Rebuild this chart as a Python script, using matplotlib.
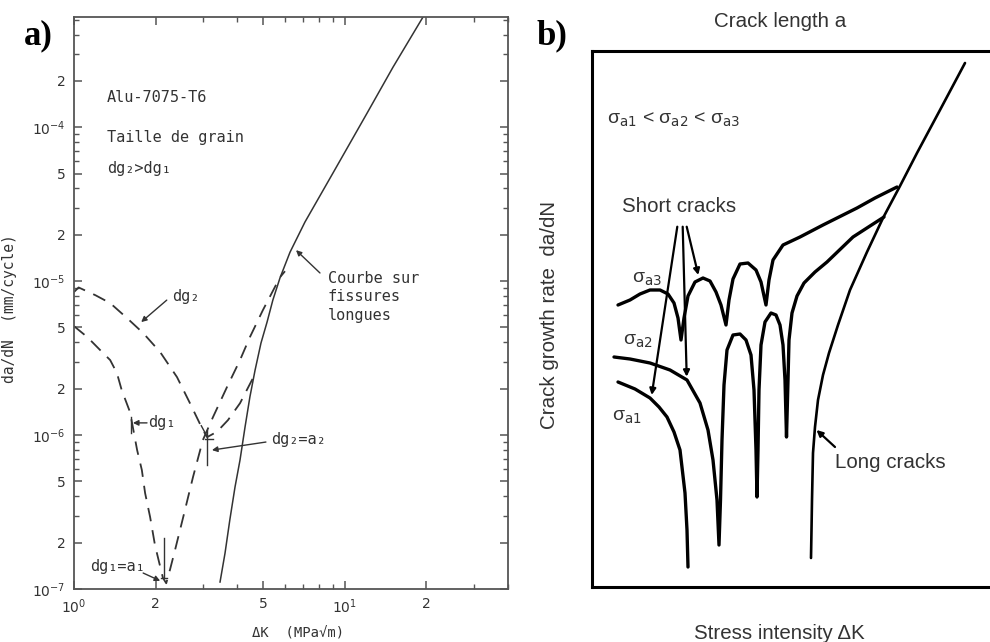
import numpy as np
import matplotlib
matplotlib.use("Agg")
import matplotlib.pyplot as plt
from matplotlib import font_manager
from matplotlib.ticker import LogLocator, NullFormatter

# ---------------- panel a) : da/dN vs dK, Alu-7075-T6 (log-log) ----------------
# long crack curve
long_K = [3.46, 3.61, 3.76, 3.93, 4.10, 4.28, 4.46, 4.66, 4.90, 5.16, 5.42, 5.76,
          6.27, 7.12, 9.03, 12.06, 15.04, 19.40]
long_v = [1.11e-7, 1.71e-7, 2.81e-7, 4.60e-7, 6.88e-7, 1.13e-6, 1.77e-6, 2.64e-6,
          3.96e-6, 5.42e-6, 7.53e-6, 1.05e-5, 1.54e-5, 2.42e-5, 5.03e-5, 1.23e-4,
          2.45e-4, 5.18e-4]

# small grain size dg1 (dashed)
dg1_K = [1.00, 1.12, 1.25, 1.36, 1.44, 1.50, 1.61, 1.71, 1.78, 1.83, 1.91, 1.99,
         2.06, 2.13, 2.19, 2.26, 2.36, 2.53, 2.75, 2.99, 3.26, 3.67, 4.10, 4.46,
         4.98, 5.76, 6.01]
dg1_v = [5.10e-6, 4.33e-6, 3.56e-6, 3.07e-6, 2.53e-6, 1.96e-6, 1.41e-6, 7.99e-7,
         5.93e-7, 4.20e-7, 2.93e-7, 1.93e-7, 1.50e-7, 1.18e-7, 1.09e-7, 1.33e-7,
         1.79e-7, 2.93e-7, 5.34e-7, 9.28e-7, 1.31e-6, 2.05e-6, 3.07e-6, 4.33e-6,
         6.48e-6, 1.06e-5, 1.16e-5]

# large grain size dg2 (dashed)
dg2_K = [1.00, 1.04, 1.20, 1.36, 1.57, 1.80, 2.08, 2.40, 2.68, 2.99, 3.10, 3.37,
         3.70, 4.10, 4.54, 4.70]
dg2_v = [8.5e-6, 9.1e-6, 8.1e-6, 7.2e-6, 5.75e-6, 4.6e-6, 3.46e-6, 2.38e-6, 1.61e-6,
         1.08e-6, 9.7e-7, 1.05e-6, 1.25e-6, 1.61e-6, 2.28e-6, 2.53e-6]

a_xticks = [1, 2, 5, 10, 20]
a_xticklabels = [r'$10^0$', '2', '5', r'$10^1$', '2']
a_yticks = [1e-7, 2e-7, 5e-7, 1e-6, 2e-6, 5e-6, 1e-5, 2e-5, 5e-5, 1e-4, 2e-4]
a_yticklabels = [r'$10^{-7}$', '2', '5', r'$10^{-6}$', '2', '5',
                 r'$10^{-5}$', '2', '5', r'$10^{-4}$', '2']

# ---------------- panel b) : schematic short / long cracks (arbitrary units) ----------------
sa1_x = [26, 43, 58, 67, 75, 82, 88, 93, 95, 96]
sa1_y = [205, 198, 189, 180, 170, 155, 137, 94, 57, 20]

sa2_x = [22, 38, 58, 78, 95, 108, 116, 121, 125, 127, 128.5, 130, 132, 135, 141, 148,
         154, 159, 162, 164, 165, 166, 167, 169, 173, 179, 184, 188, 191, 193, 194.5,
         196, 197, 200, 205, 212, 223, 235, 261, 278, 292]
sa2_y = [230, 228, 224, 217, 207, 184, 157, 127, 87, 42, 87, 147, 202, 237, 252, 253,
         247, 232, 197, 137, 90, 137, 197, 242, 265, 274, 272, 262, 242, 207, 150,
         207, 247, 274, 291, 304, 315, 325, 350, 361, 370]

sa3_x = [26, 38, 48, 58, 68, 76, 82, 86, 89, 92, 96, 103, 111, 118, 124, 129, 134,
         137, 141, 148, 156, 164, 169, 174, 177, 181, 191, 208, 231, 265, 283, 305]
sa3_y = [282, 287, 293, 297, 297, 293, 284, 269, 247, 269, 291, 305, 309, 306, 295,
         282, 262, 287, 308, 323, 324, 317, 305, 282, 307, 327, 342, 350, 362, 379,
         389, 400]

long_x = [219, 219.5, 220, 221, 223, 226, 231, 237, 246, 258, 275, 291, 308, 325, 348, 373]
long_y = [29, 57, 87, 134, 160, 187, 212, 234, 262, 297, 335, 369, 401, 434, 477, 524]


def narrow_family():
    try:
        font_manager.findfont(font_manager.FontProperties(family='Liberation Sans Narrow'),
                              fallback_to_default=False)
        return 'Liberation Sans Narrow', 1.0
    except ValueError:
        return 'Liberation Sans', 0.82


nfam, nscale = narrow_family()
ink = '#333333'
mono = 'DejaVu Sans Mono'

fig = plt.figure(figsize=(9.9, 6.42), dpi=100)

# ---- panel a
axa = fig.add_axes([74 / 990, 53 / 642, 434 / 990, 572 / 642])
dash = (0, (7.5, 5))
axa.plot(long_K, long_v, color=ink, lw=1.1)
axa.plot(dg1_K, dg1_v, color=ink, lw=1.3, linestyle=dash)
axa.plot(dg2_K, dg2_v, color=ink, lw=1.3, linestyle=dash)
axa.set_xscale('log')
axa.set_yscale('log')
axa.set_xlim(1, 40)
axa.set_ylim(1e-7, 5.2e-4)
axa.set_xticks(a_xticks)
axa.set_xticklabels(a_xticklabels)
axa.set_yticks(a_yticks)
axa.set_yticklabels(a_yticklabels)
axa.xaxis.set_minor_locator(LogLocator(base=10, subs=np.arange(2, 10) * 1.0, numticks=20))
axa.yaxis.set_minor_locator(LogLocator(base=10, subs=np.arange(2, 10) * 1.0, numticks=20))
axa.xaxis.set_minor_formatter(NullFormatter())
axa.yaxis.set_minor_formatter(NullFormatter())
axa.tick_params(which='both', direction='in', top=True, right=True, color='#555555',
                labelcolor=ink, labelsize=10)
axa.tick_params(which='major', length=6, width=1.1, pad=6)
axa.tick_params(which='minor', length=3.5, width=1.0)
for s in axa.spines.values():
    s.set_color('#555555')
    s.set_linewidth(1.3)

axa.set_ylabel('da/dN  (mm/cycle)', family=mono, fontsize=10.5, color=ink)
axa.yaxis.set_label_coords(-0.131, 0.49)
axa.set_xlabel('ΔK  (MPa√m)', family=mono, fontsize=10, color=ink)
axa.xaxis.set_label_coords(0.516, -0.066)

txt = dict(family=mono, fontsize=11, color=ink, va='center', ha='left')
axa.text(1.32, 1.57e-4, 'Alu-7075-T6', **txt)
axa.text(1.32, 8.6e-5, 'Taille de grain', **txt)
axa.text(1.32, 5.4e-5, 'dg₂>dg₁', **txt)
axa.text(8.66, 7.9e-6, 'Courbe sur\nfissures\nlongues', linespacing=1.3, **txt)
axa.text(2.30, 7.9e-6, 'dg₂', **txt)
axa.text(1.87, 1.20e-6, 'dg₁', **txt)
axa.text(5.33, 9.3e-7, 'dg₂=a₂', **txt)
axa.text(1.15, 1.39e-7, 'dg₁=a₁', **txt)

arr = dict(arrowstyle='-|>', color=ink, lw=1.0, mutation_scale=8, shrinkA=0, shrinkB=0)
axa.annotate('', xy=(6.60, 1.59e-5), xytext=(8.09, 1.13e-5), arrowprops=arr)
axa.annotate('', xy=(1.77, 5.42e-6), xytext=(2.20, 7.53e-6), arrowprops=arr)
axa.annotate('', xy=(1.65, 1.20e-6), xytext=(1.86, 1.20e-6), arrowprops=arr)
axa.annotate('', xy=(3.23, 7.99e-7), xytext=(5.11, 9.01e-7), arrowprops=arr)
axa.annotate('', xy=(2.08, 1.13e-7), xytext=(1.80, 1.27e-7), arrowprops=arr)
axa.plot([1.62, 1.62], [1.03e-6, 1.31e-6], color=ink, lw=1.0)
axa.plot([3.10, 3.10], [6.4e-7, 1.08e-6], color=ink, lw=1.0)
axa.plot([3.04, 3.26], [9.4e-7, 9.4e-7], color=ink, lw=1.0)
axa.plot([2.95, 3.08], [1.15e-6, 1.0e-6], color=ink, lw=1.0)
axa.plot([2.15, 2.15], [1.18e-7, 2.14e-7], color=ink, lw=1.0)
axa.plot([2.10, 2.20], [1.18e-7, 1.18e-7], color=ink, lw=1.0)

# ---- panel b
axb = fig.add_axes([592 / 990, 55 / 642, 398 / 990, 536 / 642])
lk = dict(color='black', solid_capstyle='round', solid_joinstyle='round')
axb.plot(sa1_x, sa1_y, lw=2.4, **lk)
axb.plot(sa2_x, sa2_y, lw=2.4, **lk)
axb.plot(sa3_x, sa3_y, lw=2.4, **lk)
axb.plot(long_x, long_y, lw=1.9, **lk)
axb.set_xlim(0, 398)
axb.set_ylim(0, 536)
axb.set_xticks([])
axb.set_yticks([])
axb.spines['right'].set_visible(False)
for k in ('left', 'top', 'bottom'):
    axb.spines[k].set_linewidth(2.2)

nt = dict(family=nfam, color=ink)
fs = 18 * nscale
axb.set_title('Crack length a', fontsize=fs, pad=0, y=1.045, x=0.472, **nt)
axb.set_xlabel('Stress intensity ΔK', fontsize=fs, **nt)
axb.xaxis.set_label_coords(0.472, -0.069)
axb.set_ylabel('Crack growth rate  da/dN', fontsize=fs, **nt)
axb.yaxis.set_label_coords(-0.083, 0.507)
axb.text(87, 381, 'Short cracks', fontsize=fs, ha='center', va='center', **nt)
axb.text(243, 124, 'Long cracks', fontsize=fs, ha='left', va='center', **nt)
sg = 17 * nscale
axb.text(15, 467, r'σ$_{\rm a1}$ < σ$_{\rm a2}$ < σ$_{\rm a3}$', fontsize=sg,
         ha='left', va='center', **nt)
axb.text(40, 308, r'σ$_{\rm a3}$', fontsize=sg, ha='left', va='center', **nt)
axb.text(31, 246, r'σ$_{\rm a2}$', fontsize=sg, ha='left', va='center', **nt)
axb.text(20, 170, r'σ$_{\rm a1}$', fontsize=sg, ha='left', va='center', **nt)

barr = dict(arrowstyle='-|>', color='black', lw=1.6, mutation_scale=9, shrinkA=0, shrinkB=0)
axb.annotate('', xy=(59.7, 192), xytext=(85.3, 360.3), arrowprops=barr)
axb.annotate('', xy=(94.7, 210.3), xytext=(90.7, 360.3), arrowprops=barr)
axb.annotate('', xy=(106.3, 312), xytext=(94.7, 360.3), arrowprops=barr)
axb.annotate('', xy=(224.5, 157), xytext=(243, 140), arrowprops=barr)

fig.text(38 / 990, 1 - 36 / 642, 'a)', family='Liberation Serif', weight='bold',
         fontsize=25, ha='center', va='center')
fig.text(552 / 990, 1 - 36 / 642, 'b)', family='Liberation Serif', weight='bold',
         fontsize=25, ha='center', va='center')

fig.savefig('out.png', dpi=100)
